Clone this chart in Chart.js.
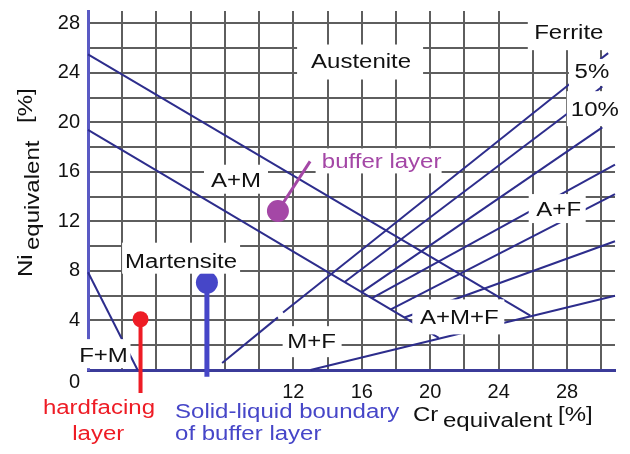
<!DOCTYPE html>
<html lang="en">
<head>
    <meta charset="UTF-8">
    <title>Schaeffler diagram</title>
    <style>
        body { margin: 0; background: #fff; }
        #wrap { width: 630px; height: 454px; }
        canvas { background: #fff; }
    </style>
</head>
<body>

    <div id="wrap"><canvas id="schaeffler" width="630" height="454"></canvas></div>

    <script src="https://cdn.jsdelivr.net/npm/chart.js"></script>

    <script>
        // tick labels shown on the axes (grid every 2 %)
        const xTickLabels = [12, 16, 20, 24, 28];
        const yTickLabels = [0, 4, 8, 12, 16, 20, 24, 28];

        // phase boundaries, points as [Cr equivalent, Ni equivalent]
        const austeniteEdge = [[0, 25.5], [25.85, 4.4]];
        const martensiteEdge = [[0, 19.4], [20.5, 2.6]];
        const ferriteMartEdge = [[0, 7.9], [2.9, 0]];
        const ferrite5Low = [[7.84, 0.56], [11.1, 4.25]];
        const ferrite5 = [[11.4, 4.65], [28.3, 23.27]];
        const ferrite5Tip = [[29.94, 25.1], [30.4, 25.6]];
        const ferrite10 = [[15.0, 7.11], [28.2, 20.9]];
        const ferrite10Tip = [[29.65, 22.45], [30.06, 22.9]];
        const fanLine3 = [[16.0, 6.29], [30.06, 19.6]];
        const fanLine4 = [[16.6, 5.8], [30.8, 16.6]];
        const fanLine5 = [[17.7, 4.89], [30.8, 14.2]];
        const fanLine6 = [[18.5, 4.24], [30.8, 10.4]];
        const fanBottom = [[13.0, 0], [30.8, 6.0]];

        // marked compositions
        const bufferLayer = [11.1, 12.84];
        const bufferLeader = [[11.1, 12.84], [12.98, 16.85]];
        const hardfacing = [3.07, 4.1];
        const hardfacingStem = [[3.07, 4.1], [3.07, -1.85]];
        const solidLiquid = [6.95, 7.06];
        const solidLiquidStem = [[6.95, 7.06], [6.95, -0.55]];

        const LINE = '#2d2d8c';
        const RED = '#ee1c25';
        const BLUE = '#4646c8';
        const PURPLE = '#a447a6';
        const STRETCH = 1.2;

        // text labels: centre in data units, white box as [left, top, right, bottom] px around it
        const phaseLabels = [
            { text: 'Austenite', x: 15.96, y: 25.0, box: [64, 16, 62, 19] },
            { text: 'Ferrite', x: 28.1, y: 27.29, box: [41, 27, 57, 18] },
            { text: '5%', x: 29.45, y: 24.16, box: [23, 12, 34, 15] },
            { text: '10%', x: 29.62, y: 21.07, box: [28, 18, 31, 17] },
            { text: 'A+M', x: 8.65, y: 15.37, box: [32, 15, 32, 14] },
            { text: 'Martensite', x: 5.44, y: 8.83, box: [59, 18, 59, 13] },
            { text: 'A+F', x: 27.51, y: 13.0, box: [30, 15, 27, 14] },
            { text: 'A+M+F', x: 21.7, y: 4.33, box: [47, 17, 45, 18] },
            { text: 'M+F', x: 13.07, y: 2.33, box: [29, 15, 30, 16] },
            { text: 'F+M', x: 0.906, y: 1.2, box: [27, 16, 27, 13] },
            { text: 'buffer layer', x: 17.16, y: 16.93, box: [66, 12, 60, 13], color: PURPLE },
            { text: 'hardfacing', x: 0.64, y: -2.97, color: RED },
            { text: 'layer', x: 0.6, y: -5.06, color: RED },
            { text: 'Solid-liquid boundary', x: 5.09, y: -3.33, color: BLUE, align: 'left' },
            { text: 'of buffer layer', x: 5.09, y: -5.06, color: BLUE, align: 'left' }
        ];

        const toXY = pts => pts.map(p => ({ x: p[0], y: p[1] }));

        function lineSet(pts, color, width) {
            return {
                data: toXY(pts), showLine: true, borderColor: color, borderWidth: width,
                pointRadius: 0, fill: false, clip: false
            };
        }

        function dotSet(pt, color, r) {
            return {
                data: toXY([pt]), showLine: false, pointRadius: r, pointBackgroundColor: color,
                pointBorderWidth: 0, clip: false
            };
        }

        function drawText(ctx, str, px, py, size, color, align) {
            ctx.save();
            ctx.font = size + 'px Arial, "Liberation Sans", sans-serif';
            ctx.fillStyle = color;
            ctx.textAlign = 'left';
            ctx.textBaseline = 'alphabetic';
            const w = ctx.measureText(str).width * STRETCH;
            const left = align === 'left' ? px : px - w / 2;
            ctx.translate(left, py + 0.358 * size);
            ctx.scale(STRETCH, 1);
            ctx.fillText(str, 0, 0);
            ctx.restore();
        }

        // rotated text, reading upwards, starting at screen (bx, by)
        function drawUp(ctx, str, bx, by, size, color) {
            ctx.save();
            ctx.font = size + 'px Arial, "Liberation Sans", sans-serif';
            ctx.fillStyle = color;
            ctx.textAlign = 'left';
            ctx.textBaseline = 'alphabetic';
            ctx.translate(bx, by);
            ctx.rotate(-Math.PI / 2);
            ctx.scale(STRETCH, 1);
            ctx.fillText(str, 0, 0);
            ctx.restore();
        }

        function drawTitleX(ctx, bottom) {
            const base = bottom + 51;
            const parts = [['Cr', 413, 0], ['equivalent', 443, 6], ['[%]', 558, 0]];
            parts.forEach(p => {
                ctx.save();
                ctx.font = '20px Arial, "Liberation Sans", sans-serif';
                ctx.fillStyle = '#111';
                ctx.translate(p[1], base + p[2]);
                ctx.scale(STRETCH, 1);
                ctx.fillText(p[0], 0, 0);
                ctx.restore();
            });
        }

        function drawTitleY(ctx) {
            drawUp(ctx, 'Ni', 32, 277, 20, '#111');
            drawUp(ctx, 'equivalent', 38.5, 250, 20, '#111');
            drawUp(ctx, '[%]', 32, 123, 20, '#111');
        }

        const labelPlugin = {
            id: 'phaseLabels',
            afterDatasetsDraw(chart) {
                const { ctx, scales: { x, y } } = chart;
                ctx.save();
                ctx.fillStyle = '#fff';
                phaseLabels.forEach(l => {
                    if (!l.box) return;
                    const cx = x.getPixelForValue(l.x), cy = y.getPixelForValue(l.y);
                    ctx.fillRect(cx - l.box[0], cy - l.box[1], l.box[0] + l.box[2], l.box[1] + l.box[3]);
                });
                ctx.restore();
                phaseLabels.forEach(l => {
                    drawText(ctx, l.text, x.getPixelForValue(l.x), y.getPixelForValue(l.y),
                        20, l.color || '#111', l.align);
                });
                drawTitleX(ctx, chart.chartArea.bottom);
                drawTitleY(ctx);
            }
        };

        const ctx = document.getElementById('schaeffler').getContext('2d');
        const schaeffler = new Chart(ctx, {
            type: 'scatter',
            data: {
                datasets: [
                    dotSet(bufferLayer, PURPLE, 11),
                    dotSet(solidLiquid, BLUE, 11),
                    dotSet(hardfacing, RED, 8),
                    lineSet(bufferLeader, PURPLE, 3),
                    lineSet(solidLiquidStem, BLUE, 5),
                    lineSet(hardfacingStem, RED, 4),
                    lineSet(austeniteEdge, LINE, 2),
                    lineSet(martensiteEdge, LINE, 2),
                    lineSet(ferriteMartEdge, LINE, 2),
                    lineSet(ferrite5Low, LINE, 2),
                    lineSet(ferrite5, LINE, 2),
                    lineSet(ferrite5Tip, LINE, 2),
                    lineSet(ferrite10, LINE, 2),
                    lineSet(ferrite10Tip, LINE, 2),
                    lineSet(fanLine3, LINE, 2),
                    lineSet(fanLine4, LINE, 2),
                    lineSet(fanLine5, LINE, 2),
                    lineSet(fanLine6, LINE, 2),
                    lineSet(fanBottom, LINE, 2)
                ]
            },
            options: {
                responsive: false,
                animation: false,
                events: [],
                layout: { padding: { left: 0, top: 8, right: 15, bottom: 0 } },
                scales: {
                    x: {
                        type: 'linear',
                        min: 0,
                        max: 30.8,
                        afterFit: s => { s.height = 84; s.paddingLeft = 0; s.paddingRight = 0; },
                        grid: { color: '#5e5e5e', lineWidth: 2, drawTicks: false },
                        border: { color: '#3b3b99', width: 3 },
                        ticks: {
                            stepSize: 2,
                            autoSkip: false,
                            includeBounds: false,
                            maxRotation: 0,
                            padding: 10,
                            color: '#111',
                            font: { family: 'Arial, "Liberation Sans", sans-serif', size: 20 },
                            callback: v => xTickLabels.includes(v) ? String(v) : ''
                        }
                    },
                    y: {
                        type: 'linear',
                        min: 0,
                        max: 29,
                        afterFit: s => { s.width = 88; s.paddingTop = 0; s.paddingBottom = 0; },
                        grid: { color: '#5e5e5e', lineWidth: 2, drawTicks: false },
                        border: { color: '#5a5ac4', width: 3 },
                        ticks: {
                            stepSize: 2,
                            autoSkip: false,
                            includeBounds: false,
                            padding: 8,
                            color: '#111',
                            font: { family: 'Arial, "Liberation Sans", sans-serif', size: 20 },
                            callback: v => {
                                if (!yTickLabels.includes(v)) return '';
                                return v === 0 ? ['', '0'] : String(v);
                            }
                        }
                    }
                },
                plugins: {
                    legend: { display: false },
                    tooltip: { enabled: false }
                }
            },
            plugins: [labelPlugin]
        });
    </script>

</body>
</html>
